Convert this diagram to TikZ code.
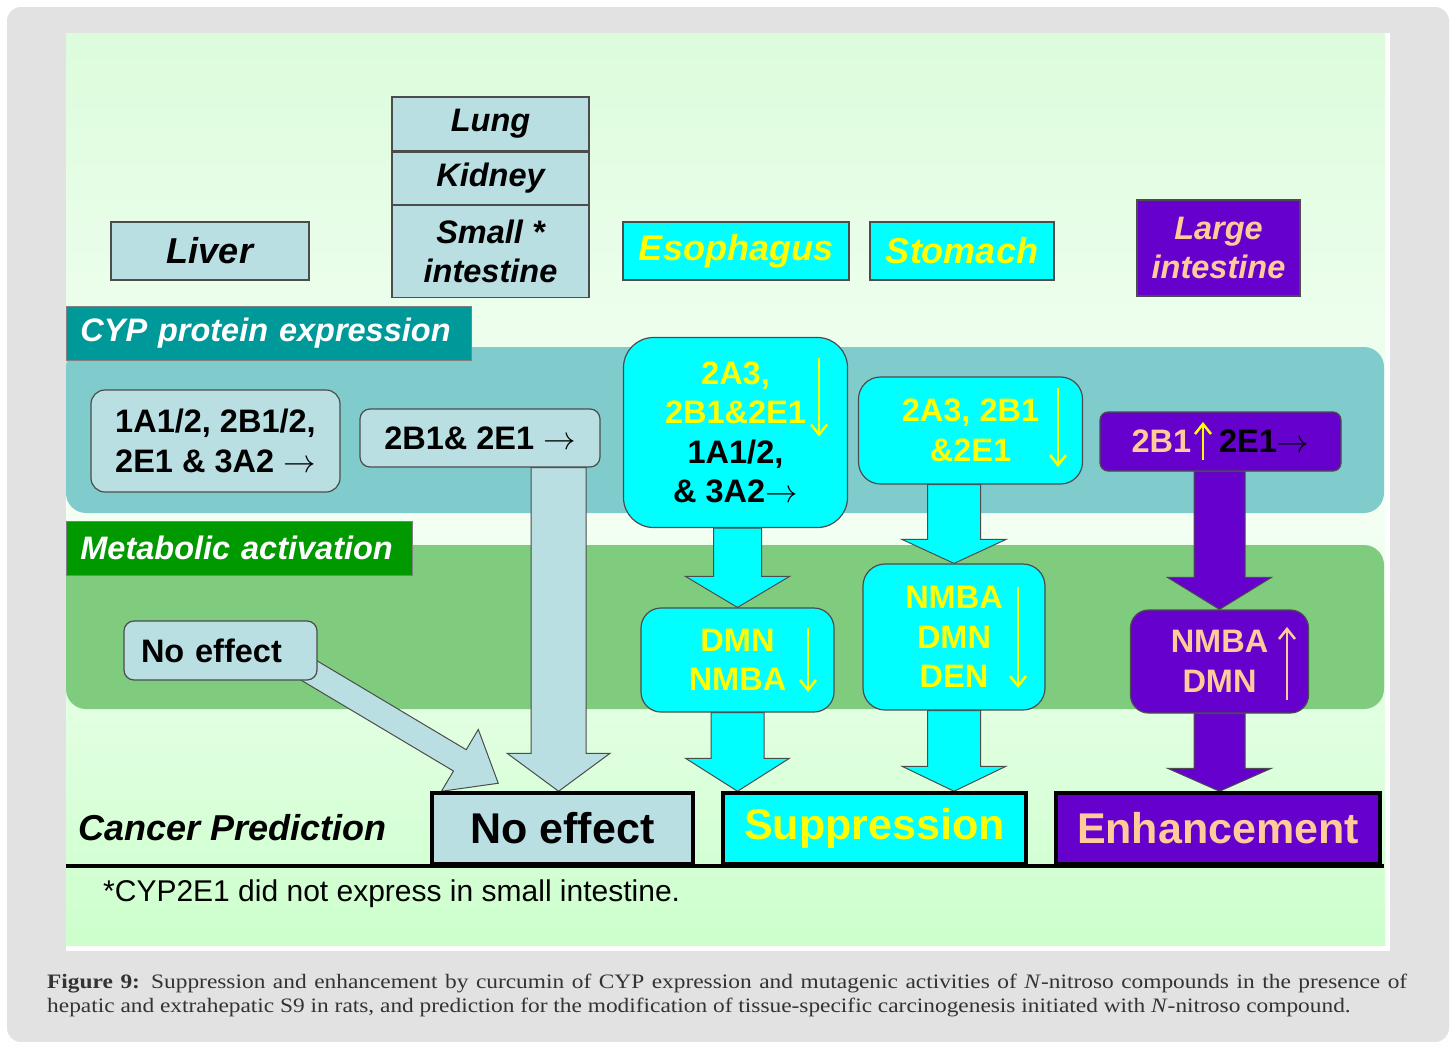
\RequirePackage{fix-cm}
\documentclass[tikz,border=0pt]{standalone}
\usepackage{fontspec}
\setmainfont{Liberation Sans}
\newfontfamily\capfont[FakeStretch=1.14]{Liberation Serif}
\usetikzlibrary{calc,positioning,arrows.meta}

\definecolor{framegray}{HTML}{E2E2E2}
\definecolor{paneltop}{HTML}{DCFCDC}
\definecolor{panelmid}{HTML}{F6FFF6}
\definecolor{panelbot}{HTML}{CCFFCC}
\definecolor{paleblue}{HTML}{B9DFE3}
\definecolor{tealdark}{HTML}{009999}
\definecolor{tealband}{HTML}{80CCCC}
\definecolor{greendark}{HTML}{009900}
\definecolor{greenband}{HTML}{7FCC7F}
\definecolor{purplebox}{HTML}{6600CC}
\definecolor{cyanbox}{HTML}{00FFFF}
\definecolor{yellowtext}{HTML}{FFFF00}
\definecolor{peach}{HTML}{FFCC99}

\pgfdeclarelayer{bg}
\pgfdeclarelayer{flow}
\pgfsetlayers{bg,flow,main}

\newcommand\organfont{\fontsize{32.5}{39}\selectfont\bfseries\itshape}
\newcommand\bigorgan{\fontsize{36}{40}\selectfont\bfseries\itshape}
\newcommand\boxfont{\fontsize{32.5}{39.5}\selectfont\bfseries}
\newcommand\resfont{\fontsize{43}{48}\selectfont\bfseries}

% from, tip, fill, shaft half width, head half width, head length
\newcommand{\blockarrow}[6]{%
  \coordinate (ba) at ($(#2)!#6!(#1)$);
  \draw[arrowline, fill=#3] ($(#1)!#4!90:(#2)$) -- ($(ba)!#4!90:(#2)$) -- ($(ba)!#5!90:(#2)$) -- (#2)
    -- ($(ba)!#5!-90:(#2)$) -- ($(ba)!#4!-90:(#2)$) -- ($(#1)!#4!-90:(#2)$) -- cycle;}

\tikzset{
  organ/.style={draw=black!70, line width=1.2pt, fill=paleblue, inner sep=0pt, align=center, font=\organfont},
  hdr/.style={draw=black!50, line width=0.8pt, anchor=west, text=white, inner xsep=14pt, inner ysep=0pt, align=left, minimum height=54pt, font=\organfont},
  cypbox/.style={draw=black!70, line width=1.2pt, fill=paleblue, inner sep=0pt, align=center, font=\boxfont},
  result/.style={draw=black, line width=3.5pt, minimum height=71pt, inner sep=0pt, font=\resfont},
  thinarr/.style={line width=2.5pt, -{Straight Barb[length=10pt,width=16pt]}},
  arrowline/.style={draw=black!70, line width=1pt, line join=miter}
}

\begin{document}
\begin{tikzpicture}[x=1pt, y=-1pt]
\useasboundingbox (0,0) rectangle (1452,1042);

\begin{pgfonlayer}{bg}
\fill[framegray, rounded corners=14pt] (7,7) rectangle (1449,1042);
\fill[white] (66,33) rectangle (1390,951);
\shade[top color=paneltop, bottom color=panelbot, middle color=panelmid] (66,33) rectangle (1385,945);
\fill[tealband, rounded corners=20pt] (66,347) rectangle (1384,513);
\fill[greenband, rounded corners=20pt] (66,545) rectangle (1384,709);
\end{pgfonlayer}

\node[organ, font=\bigorgan, minimum width=198pt, minimum height=58pt] (liver) at (210,251) {Liver};
\node[organ, minimum width=197pt, minimum height=54pt] (lung) at (490.5,124) {Lung};
\node[organ, minimum width=197pt, minimum height=52pt, below=0pt of lung] (kidney) {Kidney};
\node[organ, minimum width=197pt, minimum height=92pt, below=0pt of kidney] (smallint) {Small *\\intestine};
\node[organ, font=\bigorgan, fill=cyanbox, text=yellowtext, minimum width=226pt, minimum height=58pt] (eso) at (736,251) {Esophagus};
\node[organ, font=\bigorgan, fill=cyanbox, text=yellowtext, minimum width=184pt, minimum height=58pt] (stom) at (962,251) {Stomach};
\node[organ, fill=purplebox, text=peach, minimum width=163pt, minimum height=96pt] (largeint) at (1218.5,248) {Large\\intestine};

\node[hdr, fill=tealdark, text width=377pt] (cyp) at (66,333) {CYP protein expression};
\node[hdr, fill=greendark, text width=318pt] (act) at (66,548) {Metabolic activation};

\node[cypbox, minimum width=249pt, minimum height=102pt, rounded corners=14pt] (exliv) at (215.5,441) {1A1/2, 2B1/2,\\2E1 \& 3A2 $\rightarrow$};
\node[cypbox, minimum width=240pt, minimum height=58pt, rounded corners=10pt] (exlung) at (480,438) {2B1\& 2E1 $\rightarrow$};
\node[cypbox, fill=cyanbox, text=yellowtext, minimum width=224pt, minimum height=190pt, rounded corners=30pt] (exeso) at (735.5,432.5)
  {2A3,\\2B1\&2E1\\\textcolor{black}{1A1/2,}\\\textcolor{black}{\& 3A2$\rightarrow$}};
\node[cypbox, fill=cyanbox, text=yellowtext, minimum width=224pt, minimum height=107pt, rounded corners=22pt] (exstom) at (970.5,430.5) {2A3, 2B1\\\&2E1};
\node[cypbox, fill=purplebox, text=black, minimum width=241pt, minimum height=59pt, rounded corners=8pt] (exlarge) at (1220.5,441.5)
  {\textcolor{peach}{2B1}\hspace{28pt}2E1$\rightarrow$};

\node[cypbox, minimum height=59pt, text width=159pt, inner xsep=17pt, align=left, rounded corners=10pt] (metlung) at (220.5,650.5) {No effect};
\node[cypbox, fill=cyanbox, text=yellowtext, minimum width=193pt, minimum height=104pt, rounded corners=20pt] (meteso) at (737.5,660) {DMN\\NMBA};
\node[cypbox, fill=cyanbox, text=yellowtext, minimum width=182pt, minimum height=146pt, rounded corners=22pt] (metstom) at (954,637) {NMBA\\DMN\\DEN};
\node[cypbox, fill=purplebox, text=peach, minimum width=178pt, minimum height=103pt, rounded corners=18pt] (metlarge) at (1219.5,661.5) {NMBA\\DMN};

\node[font=\bigorgan, anchor=west, inner sep=0pt] (cancer) at (78,828) {Cancer Prediction};
\node[result, fill=paleblue, minimum width=261pt] (prednone) at (562.5,828.5) {No effect};
\node[result, fill=cyanbox, text=yellowtext, minimum width=303pt] (predsup) at (874.5,828.5) {Suppression};
\node[result, fill=purplebox, text=peach, minimum width=324pt] (predenh) at (1218,828.5) {Enhancement};
\draw[line width=4pt] (66,866) -- (1384,866);

\node[anchor=west, inner sep=0pt, font=\fontsize{30}{34}\selectfont] (note) at (103,894) {*CYP2E1 did not express in small intestine.};

\draw[thinarr, yellowtext] ($(exeso.center)+(83.5,-75)$) -- ++(0,79);
\draw[thinarr, yellowtext] ($(exstom.center)+(87.5,-42.5)$) -- ++(0,79);
\draw[thinarr, yellowtext] ($(exlarge.center)+(-17.5,18.5)$) -- ++(0,-38);
\draw[thinarr, yellowtext] ($(meteso.center)+(70.5,-32)$) -- ++(0,64);
\draw[thinarr, yellowtext] ($(metstom.center)+(64,-50)$) -- ++(0,101);
\draw[thinarr, peach] ($(metlarge.center)+(67.5,38.5)$) -- ++(0,-73);

\begin{pgfonlayer}{flow}
\coordinate (a0) at ($(exlung.south east)+(-42,0)$);
\coordinate (a1) at (a0 |- prednone.north);
\blockarrow{a0}{a1}{paleblue}{27.5pt}{51.5pt}{38pt}
\coordinate (d0) at ($(metlung.south east)+(-15,-14)$);
\coordinate (d1) at ($(prednone.north west)+(68,-8)$);
\blockarrow{d0}{d1}{paleblue}{12.4pt}{36pt}{44.7pt}
\coordinate (e0) at (meteso.north |- exeso.south);
\blockarrow{e0}{meteso.north}{cyanbox}{24pt}{52pt}{31pt}
\coordinate (e2) at (meteso.south |- predsup.north);
\blockarrow{meteso.south}{e2}{cyanbox}{26.5pt}{52pt}{33pt}
\coordinate (s0) at (metstom.north |- exstom.south);
\blockarrow{s0}{metstom.north}{cyanbox}{26.5pt}{52pt}{24pt}
\coordinate (s2) at (metstom.south |- predsup.north);
\blockarrow{metstom.south}{s2}{cyanbox}{26.5pt}{52pt}{25pt}
\coordinate (p0) at (metlarge.north |- exlarge.south);
\blockarrow{p0}{metlarge.north}{purplebox}{25.5pt}{52pt}{32pt}
\coordinate (p2) at (metlarge.south |- predenh.north);
\blockarrow{metlarge.south}{p2}{purplebox}{25.5pt}{52pt}{23pt}
\end{pgfonlayer}

\node[anchor=base west, inner sep=0pt, text=black!80, font=\capfont\fontsize{20.5}{24}\selectfont] (cap1) at (47,988)
  {\hbox to 1360pt{\textbf{Figure 9:} Suppression and enhancement by curcumin of CYP expression and mutagenic activities of \textit{N}-nitroso compounds in the presence of}};
\node[anchor=base west, inner sep=0pt, text=black!80, font=\capfont\fontsize{20.5}{24}\selectfont] (cap2) at (47,1012)
  {hepatic and extrahepatic S9 in rats, and prediction for the modification of tissue-specific carcinogenesis initiated with \textit{N}-nitroso compound.};
\end{tikzpicture}
\end{document}
